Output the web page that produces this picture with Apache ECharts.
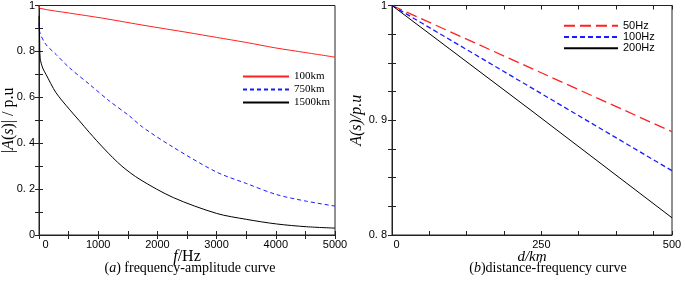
<!DOCTYPE html>
<html>
<head>
<meta charset="utf-8">
<script src="https://cdn.jsdelivr.net/npm/echarts@6/dist/echarts.min.js"></script>
<style>
  html, body { margin: 0; padding: 0; background: #fff; }
  #main { width: 685px; height: 283px; }
</style>
</head>
<body>
<div id="main"></div>
<script>
// (a) frequency-amplitude curve
var freq100 = [0, 17, 512, 1070, 1808, 2500, 3000, 3500, 4000, 4500, 5000];
var amp100 = [1.0, 0.988, 0.967, 0.945, 0.912, 0.883, 0.861, 0.839, 0.815, 0.795, 0.775];

var freq750 = [0, 17, 118, 287, 512, 850, 1188, 1526, 1750, 2269, 3001, 3508, 4015, 4522, 5000];
var amp750 = [0.923, 0.88, 0.83, 0.787, 0.729, 0.657, 0.584, 0.519, 0.47, 0.382, 0.274, 0.224, 0.176, 0.147, 0.126];

var freq1500 = [0, 10, 20, 62, 118, 287, 512, 681, 850, 1103, 1400, 1706, 2269, 3001, 3508, 4015, 4522, 5000];
var amp1500 = [0.955, 0.86, 0.77, 0.728, 0.70, 0.62, 0.548, 0.498, 0.447, 0.375, 0.30, 0.242, 0.163, 0.094, 0.068, 0.048, 0.036, 0.030];

// (b) distance-frequency curve
var dist = [0, 250, 500];
var amp50Hz = [1.0, 0.945, 0.890];
var amp100Hz = [1.0, 0.928, 0.856];
var amp200Hz = [1.0, 0.908, 0.815];

var dTickLabels = ['0', '', '', '', '250', '', '', '', '500'];

function pairs(xs, ys) {
  var out = [];
  for (var i = 0; i < xs.length; i++) out.push([xs[i], ys[i]]);
  return out;
}

// label only on multiples of "every" tenths
function yLab(v, every) {
  var k = Math.round(v * 10);
  if (Math.abs(v * 10 - k) > 1e-6) return '';
  if (k % every != 0) return '';
  if (k == 0) return '0';
  if (k == 10) return '1';
  return '0. ' + k;
}

var sans = 'Liberation Sans';
var serif = 'Liberation Serif';
var frame = '#222';
var red = '#ff2020';
var blue = '#1a1aff';

var style = {
  '100km': { color: red, width: 1, type: 'solid' },
  '750km': { color: blue, width: 1, type: [4, 3] },
  '1500km': { color: '#000', width: 1, type: 'solid' },
  '50Hz': { color: red, width: 1.3, type: [11, 5] },
  '100Hz': { color: blue, width: 1.3, type: [5, 3] },
  '200Hz': { color: '#000', width: 1, type: 'solid' }
};

function frameAxis(grid, pos, min, max, interval) {
  return {
    type: 'value', gridIndex: grid, position: pos, min: min, max: max, interval: interval,
    axisLine: { show: true, lineStyle: { color: frame, width: 1 } },
    axisTick: { show: true, inside: true, length: 4, lineStyle: { color: frame } },
    axisLabel: { show: false },
    splitLine: { show: false }
  };
}

function line(name, xi, xs, ys, smooth) {
  return {
    name: name, type: 'line', xAxisIndex: xi, yAxisIndex: xi, symbol: 'none', smooth: smooth,
    lineStyle: style[name], itemStyle: { color: style[name].color },
    data: pairs(xs, ys)
  };
}

var chart = echarts.init(document.getElementById('main'));
var option = {
  animation: false,
  backgroundColor: '#fff',
  grid: [
    { left: 39, top: 4, width: 296, height: 231, show: true, borderColor: frame, borderWidth: 1 },
    { left: 392, top: 4, width: 280, height: 231, show: true, borderColor: frame, borderWidth: 1 }
  ],
  xAxis: [
    {
      type: 'value', gridIndex: 0, position: 'bottom', min: 0, max: 5000, interval: 500,
      axisLine: { show: true, lineStyle: { color: frame } },
      axisTick: { show: true, inside: true, length: 4, lineStyle: { color: frame } },
      splitLine: { show: false },
      axisLabel: {
        color: '#000', fontFamily: sans, fontSize: 11, margin: 4, interval: 0, hideOverlap: false,
        showMaxLabel: true,
        formatter: function (v) {
          if (v == 0) return '{z|0}';
          return v % 1000 == 0 ? String(v) : '';
        },
        rich: { z: { fontFamily: sans, fontSize: 11, color: '#000', padding: [0, 0, 0, 13] } }
      },
      name: '{i|f}/Hz', nameLocation: 'middle', nameGap: 14, nameMoveOverlap: false,
      nameTextStyle: {
        fontFamily: serif, fontSize: 16, color: '#000',
        rich: { i: { fontFamily: serif, fontStyle: 'italic', fontSize: 16, color: '#000' } }
      }
    },
    frameAxis(0, 'top', 0, 5000, 500),
    {
      type: 'value', gridIndex: 1, position: 'bottom', min: 0, max: 500, interval: 500 / 7.5,
      axisLine: { show: true, lineStyle: { color: frame } },
      axisTick: { show: true, inside: true, length: 4, lineStyle: { color: frame } },
      splitLine: { show: false },
      axisLabel: {
        color: '#000', fontFamily: sans, fontSize: 11, margin: 4, interval: 0, hideOverlap: false,
        showMaxLabel: true,
        formatter: function (v, i) {
          var s = dTickLabels[i] || '';
          return s == '0' ? '{z|0}' : s;
        },
        rich: { z: { fontFamily: sans, fontSize: 11, color: '#000', padding: [0, 0, 0, 9] } }
      },
      name: 'd/km', nameLocation: 'middle', nameGap: 15, nameMoveOverlap: false,
      nameTextStyle: { fontFamily: serif, fontStyle: 'italic', fontSize: 15, color: '#000' }
    },
    frameAxis(1, 'top', 0, 500, 500 / 7.5)
  ],
  yAxis: [
    {
      type: 'value', gridIndex: 0, position: 'left', min: 0, max: 1, interval: 0.1,
      axisLine: { show: true, lineStyle: { color: frame } },
      axisTick: { show: true, inside: true, length: 4, lineStyle: { color: frame } },
      splitLine: { show: false },
      axisLabel: {
        color: '#000', fontFamily: sans, fontSize: 11, margin: 4, interval: 0, hideOverlap: false,
        formatter: function (v) { return yLab(v, 2); }
      },
      name: '|{i|A}({i|s})| / p.u', nameLocation: 'middle', nameGap: 22, nameMoveOverlap: false,
      nameTextStyle: {
        fontFamily: serif, fontSize: 16, color: '#000',
        rich: { i: { fontFamily: serif, fontStyle: 'italic', fontSize: 16, color: '#000' } }
      }
    },
    frameAxis(0, 'right', 0, 1, 0.1),
    {
      type: 'value', gridIndex: 1, position: 'left', min: 0.8, max: 1, interval: 0.025,
      axisLine: { show: true, lineStyle: { color: frame } },
      axisTick: { show: true, inside: true, length: 4, lineStyle: { color: frame } },
      splitLine: { show: false },
      axisLabel: {
        color: '#000', fontFamily: sans, fontSize: 11, margin: 5, interval: 0, hideOverlap: false,
        formatter: function (v) { return yLab(v, 1); }
      },
      name: 'A(s)/p.u', nameLocation: 'middle', nameGap: 27, nameMoveOverlap: false,
      nameTextStyle: { fontFamily: serif, fontStyle: 'italic', fontSize: 16, color: '#000' }
    },
    frameAxis(1, 'right', 0.8, 1, 0.025)
  ],
  legend: [
    {
      data: ['100km', '750km', '1500km'],
      orient: 'vertical', left: 237, top: 65, itemWidth: 46, itemHeight: 8, itemGap: 0,
      itemStyle: { opacity: 0, borderWidth: 0 },
      textStyle: { fontFamily: serif, fontSize: 11, color: '#000', lineHeight: 13 }
    },
    {
      data: ['50Hz', '100Hz', '200Hz'],
      orient: 'vertical', left: 558, top: 15, itemWidth: 54, itemHeight: 8, itemGap: 0,
      itemStyle: { opacity: 0, borderWidth: 0 },
      textStyle: { fontFamily: sans, fontSize: 11, color: '#000', lineHeight: 11.3 }
    }
  ],
  graphic: [
    {
      type: 'text', x: 190, y: 268,
      style: {
        text: '({i|a}) frequency-amplitude curve', fill: '#000', align: 'center', verticalAlign: 'middle',
        font: '14px "Liberation Serif"',
        rich: { i: { fontFamily: serif, fontStyle: 'italic', fontSize: 14, fill: '#000' } }
      }
    },
    {
      type: 'text', x: 548, y: 268,
      style: {
        text: '({i|b})distance-frequency curve', fill: '#000', align: 'center', verticalAlign: 'middle',
        font: '14px "Liberation Serif"',
        rich: { i: { fontFamily: serif, fontStyle: 'italic', fontSize: 14, fill: '#000' } }
      }
    }
  ],
  series: [
    line('100km', 0, freq100, amp100, 0.3),
    line('750km', 0, freq750, amp750, 0.3),
    line('1500km', 0, freq1500, amp1500, 0.3),
    line('50Hz', 2, dist, amp50Hz, false),
    line('100Hz', 2, dist, amp100Hz, false),
    line('200Hz', 2, dist, amp200Hz, false)
  ]
};
chart.setOption(option);
</script>
</body>
</html>
